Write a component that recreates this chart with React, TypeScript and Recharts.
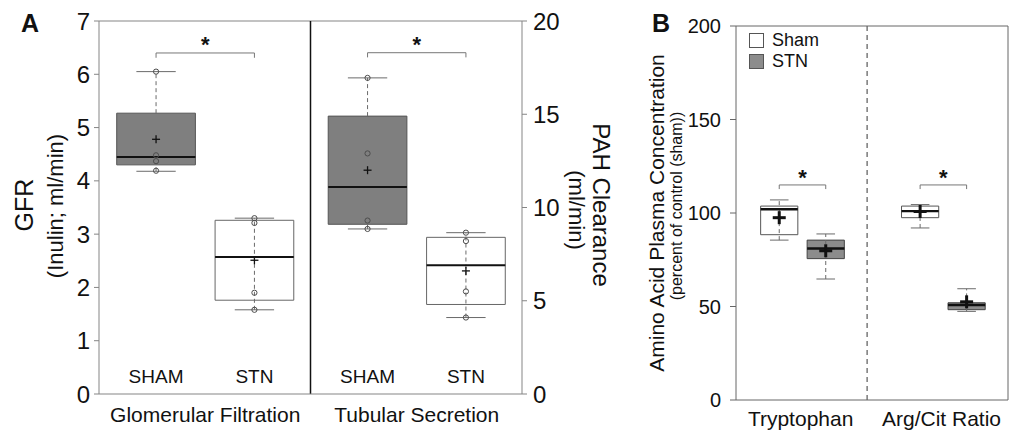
import React from "react";
import {
  ComposedChart,
  XAxis,
  YAxis,
  Scatter,
  ReferenceArea,
  ReferenceLine,
  Legend,
} from "recharts";

const FONT = "'Liberation Sans', Arial, Helvetica, sans-serif";

// ---- Panel A: renal function ----
const renalTests = ["Glomerular Filtration", "Tubular Secretion"];
const renalGroups = ["SHAM", "STN"];

const gfrMin = [4.18, 1.58];
const gfrQ1 = [4.3, 1.76];
const gfrMedian = [4.45, 2.57];
const gfrQ3 = [5.27, 3.26];
const gfrMax = [6.05, 3.3];
const gfrMean = [4.78, 2.51];
const gfrPoints = [
  [6.05, 4.48, 4.37, 4.19],
  [3.3, 3.21, 1.9, 1.58],
];

const pahMin = [8.85, 4.1];
const pahQ1 = [9.1, 4.8];
const pahMedian = [11.1, 6.9];
const pahQ3 = [14.9, 8.4];
const pahMax = [16.95, 8.65];
const pahMean = [12.0, 6.6];
const pahPoints = [
  [16.95, 12.9, 9.3, 8.85],
  [8.65, 8.2, 5.5, 4.1],
];

const gfrTicks = [0, 1, 2, 3, 4, 5, 6, 7];
const pahTicks = [0, 5, 10, 15, 20];
const gfrBracket = 6.4;
const pahBracket = 18.3;

// ---- Panel B: amino acids ----
const aminoCategories = ["Tryptophan", "Arg/Cit Ratio"];
const aminoSeries = ["Sham", "STN"];

const shamMin = [85.5, 92];
const shamQ1 = [88.4, 97.5];
const shamMedian = [102, 101];
const shamQ3 = [103.7, 103.7];
const shamMax = [107, 104.5];
const shamMean = [97.5, 100.8];

const stnMin = [64.7, 47.4];
const stnQ1 = [75.6, 48.3];
const stnMedian = [81, 50.8];
const stnQ3 = [85.5, 52];
const stnMax = [88.8, 59.5];
const stnMean = [79.8, 52.5];

const aminoTicks = [0, 50, 100, 150, 200];
const aminoBracket = [115, 115];

// layout helpers (x in axis units)
const A_GROUP = 2.15;
const A_FIRST = 0.58;
const B_GROUP = 3.03;
const B_FIRST = 0.93;
const HALF = 0.4;
const CAP = 0.2;

const GREY_A = "#7f7f7f";
const GREY_B = "#8c8c8c";
const FRAME = "#858585";

type Stats = { min: number; q1: number; median: number; q3: number; max: number };
type BoxStyle = { fill: string; stroke: string; through: boolean; medianWidth: number };

function boxElements(key: string, cx: number, s: Stats, yAxisId: string, o: BoxStyle) {
  const wh = {
    yAxisId,
    stroke: "#6a6a6a",
    strokeWidth: 1,
    strokeDasharray: "4 3",
    ifOverflow: "visible" as const,
  };
  const cap = { yAxisId, stroke: "#6a6a6a", strokeWidth: 1, ifOverflow: "visible" as const };
  const els: React.ReactElement[] = [];
  if (o.through) {
    els.push(
      <ReferenceLine key={`${key}-w`} segment={[{ x: cx, y: s.min }, { x: cx, y: s.max }]} {...wh} />
    );
  } else {
    els.push(
      <ReferenceLine key={`${key}-wu`} segment={[{ x: cx, y: s.q3 }, { x: cx, y: s.max }]} {...wh} />,
      <ReferenceLine key={`${key}-wl`} segment={[{ x: cx, y: s.min }, { x: cx, y: s.q1 }]} {...wh} />
    );
  }
  els.push(
    <ReferenceLine key={`${key}-cu`} segment={[{ x: cx - CAP, y: s.max }, { x: cx + CAP, y: s.max }]} {...cap} />,
    <ReferenceLine key={`${key}-cl`} segment={[{ x: cx - CAP, y: s.min }, { x: cx + CAP, y: s.min }]} {...cap} />,
    <ReferenceArea
      key={`${key}-box`}
      yAxisId={yAxisId}
      x1={cx - HALF}
      x2={cx + HALF}
      y1={s.q1}
      y2={s.q3}
      fill={o.fill}
      fillOpacity={1}
      stroke={o.stroke}
      strokeWidth={1}
      ifOverflow="visible"
    />,
    <ReferenceLine
      key={`${key}-med`}
      yAxisId={yAxisId}
      segment={[{ x: cx - HALF, y: s.median }, { x: cx + HALF, y: s.median }]}
      stroke="#111"
      strokeWidth={o.medianWidth}
      ifOverflow="visible"
    />
  );
  return els;
}

function bracketElements(key: string, x1: number, x2: number, y: number, drop: number, yAxisId: string) {
  const p = { yAxisId, stroke: "#777", strokeWidth: 1, ifOverflow: "visible" as const };
  return [
    <ReferenceLine key={`${key}-h`} segment={[{ x: x1, y }, { x: x2, y }]} {...p} />,
    <ReferenceLine key={`${key}-l`} segment={[{ x: x1, y }, { x: x1, y: y - drop }]} {...p} />,
    <ReferenceLine key={`${key}-r`} segment={[{ x: x2, y }, { x: x2, y: y - drop }]} {...p} />,
  ];
}

const ring = (props: any) => (
  <circle cx={props.cx} cy={props.cy} r={2.6} fill="none" stroke="#4d4d4d" strokeWidth={1} />
);

const cross = (size: number, width: number) => (props: any) => (
  <g stroke="#111" strokeWidth={width}>
    <line x1={props.cx - size} x2={props.cx + size} y1={props.cy} y2={props.cy} />
    <line x1={props.cx} x2={props.cx} y1={props.cy - size} y2={props.cy + size} />
  </g>
);

const textMark = (fontSize: number, bold: boolean, dy: number) => (props: any) => (
  <text
    x={props.cx}
    y={props.cy + dy}
    textAnchor="middle"
    fontFamily={FONT}
    fontSize={fontSize}
    fontWeight={bold ? "bold" : "normal"}
    fill="#111"
  >
    {props.payload.label}
  </text>
);

function PanelA() {
  const gfrStats = renalGroups.map((_, i) => ({
    min: gfrMin[i], q1: gfrQ1[i], median: gfrMedian[i], q3: gfrQ3[i], max: gfrMax[i],
  }));
  const pahStats = renalGroups.map((_, i) => ({
    min: pahMin[i], q1: pahQ1[i], median: pahMedian[i], q3: pahQ3[i], max: pahMax[i],
  }));
  const xOf = (g: number, m: number) => g * A_GROUP + A_FIRST + m;
  const styles: BoxStyle[] = [
    { fill: GREY_A, stroke: "#555", through: false, medianWidth: 2 },
    { fill: "none", stroke: "#666", through: true, medianWidth: 2 },
  ];

  const gfrDots = gfrPoints.flatMap((pts, m) => pts.map((y) => ({ x: xOf(0, m), y })));
  const pahDots = pahPoints.flatMap((pts, m) => pts.map((y) => ({ x: xOf(1, m), y })));
  const gfrMeans = gfrMean.map((y, m) => ({ x: xOf(0, m), y }));
  const pahMeans = pahMean.map((y, m) => ({ x: xOf(1, m), y }));
  const groupLabels = renalTests.flatMap((_, g) =>
    renalGroups.map((label, m) => ({ x: xOf(g, m), y: 0.2, label }))
  );
  const gfrStar = [{ x: xOf(0, 0.5), y: gfrBracket, label: "*" }];
  const pahStar = [{ x: xOf(1, 0.5), y: pahBracket, label: "*" }];
  const tickAt = renalTests.map((_, g) => xOf(g, 0.5));

  return (
    <ComposedChart
      width={620}
      height={431}
      margin={{ top: 21, right: 38, bottom: 0, left: 39 }}
      style={{ position: "absolute", left: 0, top: 0 }}
    >
      <XAxis
        type="number"
        dataKey="x"
        domain={[0, 2 * A_GROUP]}
        ticks={tickAt}
        tickFormatter={(_v: number, i: number) => renalTests[i]}
        tickLine={false}
        tickSize={0}
        tickMargin={13}
        height={37}
        axisLine={{ stroke: FRAME }}
        tick={{ fontSize: 21, fill: "#111", fontFamily: FONT }}
        allowDataOverflow
      />
      <YAxis
        yAxisId="gfr"
        dataKey="y"
        domain={[0, 7]}
        ticks={gfrTicks}
        width={60}
        tickSize={5}
        tickMargin={4}
        axisLine={{ stroke: FRAME }}
        tickLine={{ stroke: FRAME }}
        tick={{ fontSize: 24, fill: "#111", fontFamily: FONT }}
        label={{
          content: () => (
            <g fontFamily={FONT} fill="#111" textAnchor="middle">
              <text x={21} y={32} textAnchor="start" fontSize={25} fontWeight="bold">A</text>
              <text x={33} y={205} fontSize={25} transform="rotate(-90 33 205)">GFR</text>
              <text x={63} y={206} fontSize={22} transform="rotate(-90 63 206)">(Inulin; ml/min)</text>
            </g>
          ),
        }}
      />
      <YAxis
        yAxisId="pah"
        orientation="right"
        dataKey="y"
        domain={[0, 20]}
        ticks={pahTicks}
        width={60}
        tickSize={5}
        tickMargin={6}
        axisLine={{ stroke: FRAME }}
        tickLine={{ stroke: FRAME }}
        tick={{ fontSize: 24, fill: "#111", fontFamily: FONT }}
        label={{
          content: () => (
            <g fontFamily={FONT} fill="#111" textAnchor="middle">
              <text x={593} y={205} fontSize={24} transform="rotate(90 593 205)">PAH Clearance</text>
              <text x={569} y={210} fontSize={22} transform="rotate(90 569 210)">(ml/min)</text>
            </g>
          ),
        }}
      />

      <ReferenceLine yAxisId="gfr" y={7} stroke={FRAME} strokeWidth={1} />
      <ReferenceLine yAxisId="gfr" x={A_GROUP} stroke="#111" strokeWidth={1.5} />

      {gfrStats.flatMap((s, m) => boxElements(`g${m}`, xOf(0, m), s, "gfr", styles[m]))}
      {pahStats.flatMap((s, m) => boxElements(`p${m}`, xOf(1, m), s, "pah", styles[m]))}

      {bracketElements("gb", xOf(0, 0), xOf(0, 1), gfrBracket, 0.09, "gfr")}
      {bracketElements("pb", xOf(1, 0), xOf(1, 1), pahBracket, 0.25, "pah")}

      <Scatter yAxisId="gfr" data={gfrDots} shape={ring} isAnimationActive={false} />
      <Scatter yAxisId="pah" data={pahDots} shape={ring} isAnimationActive={false} />
      <Scatter yAxisId="gfr" data={gfrMeans} shape={cross(4, 1.3)} isAnimationActive={false} />
      <Scatter yAxisId="pah" data={pahMeans} shape={cross(4, 1.3)} isAnimationActive={false} />
      <Scatter yAxisId="gfr" data={groupLabels} shape={textMark(19, false, 0)} isAnimationActive={false} />
      <Scatter yAxisId="gfr" data={gfrStar} shape={textMark(22, true, -1)} isAnimationActive={false} />
      <Scatter yAxisId="pah" data={pahStar} shape={textMark(22, true, -1)} isAnimationActive={false} />
    </ComposedChart>
  );
}

const legendFills = ["#ffffff", GREY_B];

function AminoLegend() {
  return (
    <div style={{ fontFamily: FONT, fontSize: 18, color: "#111", lineHeight: "20px" }}>
      {aminoSeries.map((name, i) => (
        <div key={name} style={{ display: "flex", alignItems: "center", height: 20, marginBottom: 1 }}>
          <span
            style={{
              display: "inline-block",
              width: 13,
              height: 13,
              background: legendFills[i],
              border: "1px solid #555",
              marginRight: 8,
            }}
          />
          {name}
        </div>
      ))}
    </div>
  );
}

function PanelB() {
  const xOf = (g: number, m: number) => g * B_GROUP + B_FIRST + m;
  const sham = aminoCategories.map((_, i) => ({
    min: shamMin[i], q1: shamQ1[i], median: shamMedian[i], q3: shamQ3[i], max: shamMax[i],
  }));
  const stn = aminoCategories.map((_, i) => ({
    min: stnMin[i], q1: stnQ1[i], median: stnMedian[i], q3: stnQ3[i], max: stnMax[i],
  }));
  const shamStyle: BoxStyle = { fill: "none", stroke: "#555", through: true, medianWidth: 2.4 };
  const stnStyle: BoxStyle = { fill: GREY_B, stroke: "#444", through: true, medianWidth: 2.4 };
  const means = [
    ...shamMean.map((y, g) => ({ x: xOf(g, 0), y })),
    ...stnMean.map((y, g) => ({ x: xOf(g, 1), y })),
  ];
  const stars = aminoBracket.map((y, g) => ({ x: xOf(g, 0.5), y, label: "*" }));
  const tickAt = aminoCategories.map((_, g) => xOf(g, 0.5) - 0.04);

  return (
    <ComposedChart
      width={389}
      height={431}
      margin={{ top: 26, right: 1, bottom: 0, left: 56 }}
      style={{ position: "absolute", left: 620, top: 0 }}
    >
      <XAxis
        type="number"
        dataKey="x"
        domain={[0, 5.85]}
        ticks={tickAt}
        tickFormatter={(_v: number, i: number) => aminoCategories[i]}
        tickLine={false}
        tickSize={0}
        tickMargin={11}
        height={31}
        axisLine={{ stroke: "#666" }}
        tick={{ fontSize: 21, fill: "#111", fontFamily: FONT }}
        allowDataOverflow
      />
      <YAxis
        yAxisId="amino"
        dataKey="y"
        domain={[0, 200]}
        ticks={aminoTicks}
        width={60}
        tickSize={6}
        tickMargin={9}
        axisLine={{ stroke: "#666" }}
        tickLine={{ stroke: "#666" }}
        tick={{ fontSize: 20, fill: "#111", fontFamily: FONT }}
        label={{
          content: () => (
            <g fontFamily={FONT} fill="#111" textAnchor="middle">
              <text x={32} y={32} textAnchor="start" fontSize={25} fontWeight="bold">B</text>
              <text x={44} y={213} fontSize={21} transform="rotate(-90 44 213)">
                Amino Acid Plasma Concentration
              </text>
              <text x={62} y={206} fontSize={16} transform="rotate(-90 62 206)">
                (percent of control (sham))
              </text>
            </g>
          ),
        }}
      />
      <Legend
        layout="horizontal"
        verticalAlign="middle"
        align="center"
        content={() => <AminoLegend />}
        wrapperStyle={{ left: 129, top: 30, width: 100 }}
      />

      <ReferenceLine yAxisId="amino" y={200} stroke="#666" strokeWidth={1} />
      <ReferenceLine yAxisId="amino" x={5.85} stroke="#666" strokeWidth={1} />
      <ReferenceLine yAxisId="amino" x={2.82} stroke="#666" strokeWidth={1.3} strokeDasharray="5 4" />

      {sham.flatMap((s, g) => boxElements(`s${g}`, xOf(g, 0), s, "amino", shamStyle))}
      {stn.flatMap((s, g) => boxElements(`t${g}`, xOf(g, 1), s, "amino", stnStyle))}
      {aminoBracket.flatMap((y, g) => bracketElements(`b${g}`, xOf(g, 0), xOf(g, 1), y, 2.2, "amino"))}

      <Scatter yAxisId="amino" data={means} shape={cross(6.5, 3)} isAnimationActive={false} />
      <Scatter yAxisId="amino" data={stars} shape={textMark(22, true, 0)} isAnimationActive={false} />
    </ComposedChart>
  );
}

export default function App() {
  return (
    <div
      style={{
        position: "fixed",
        left: 0,
        top: 0,
        width: 1009,
        height: 431,
        background: "#fff",
        overflow: "hidden",
      }}
    >
      <PanelA />
      <PanelB />
    </div>
  );
}
